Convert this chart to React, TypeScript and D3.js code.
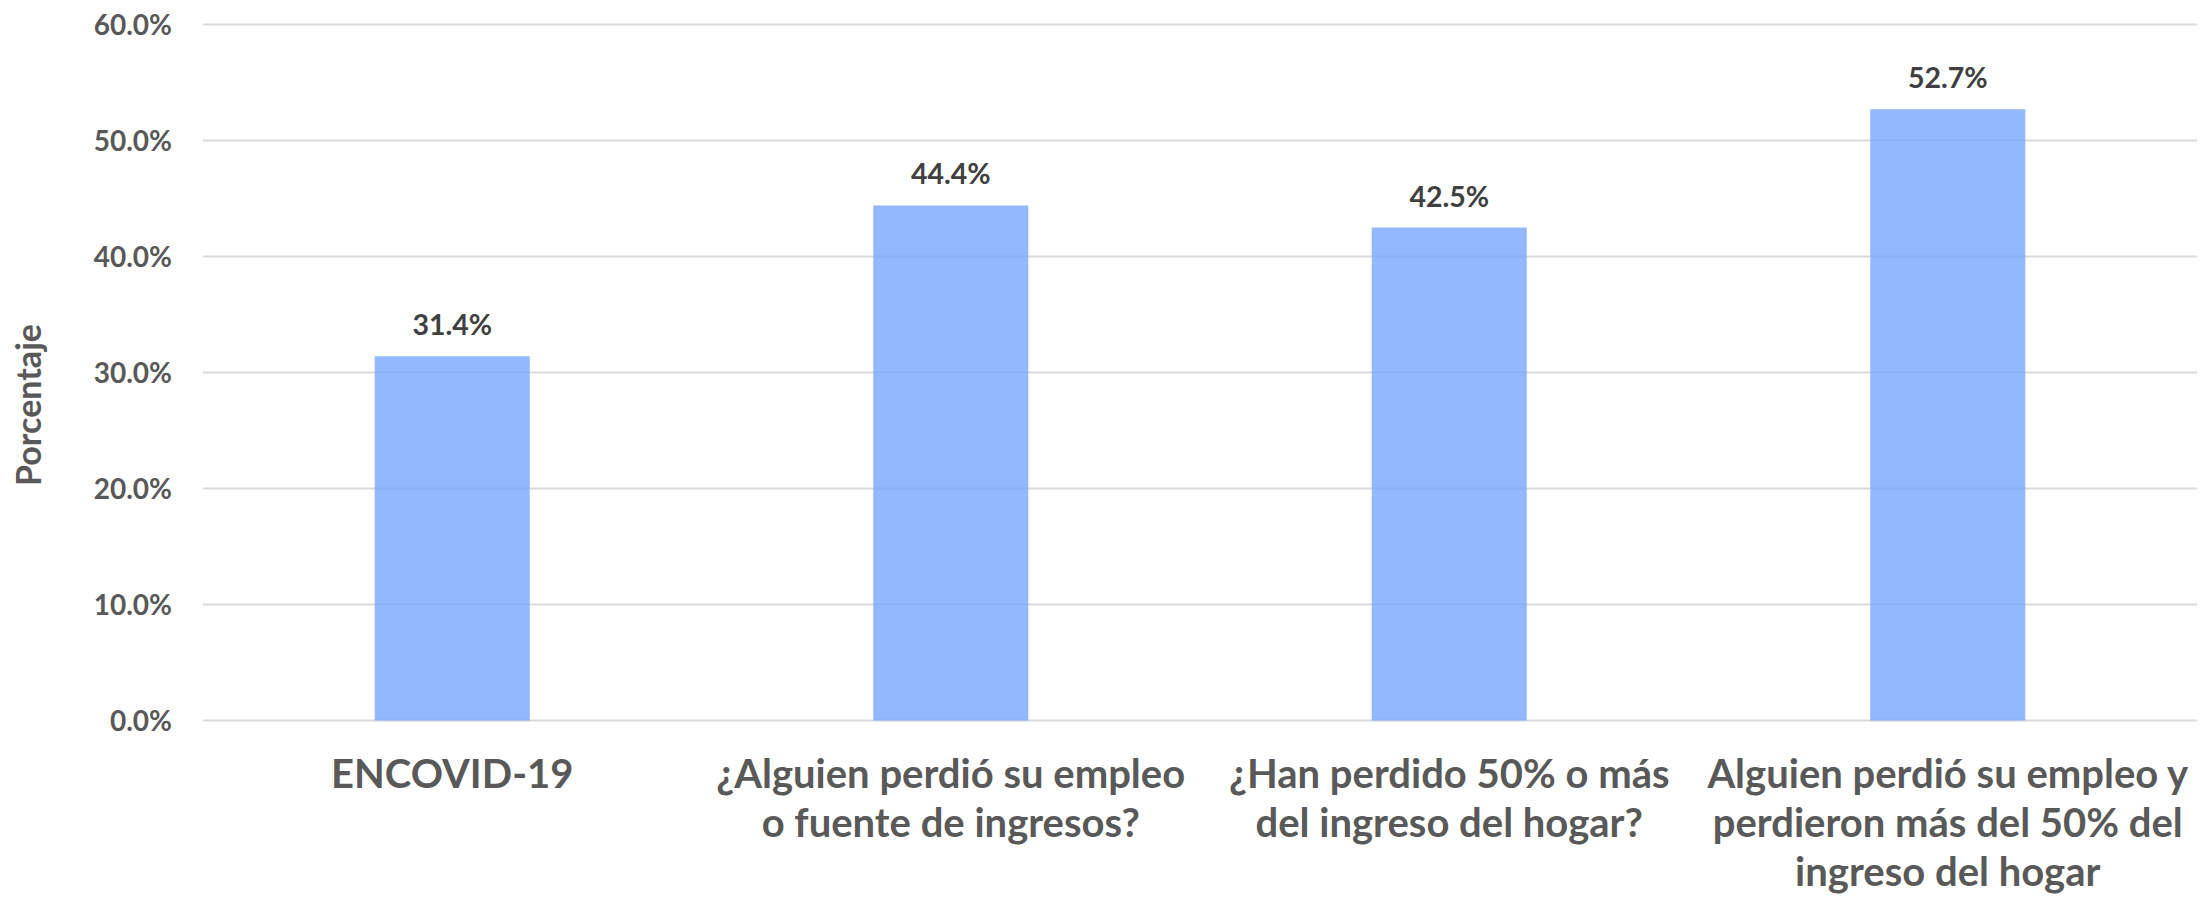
import React from "react";
import * as d3 from "d3";

const categories: string[] = [
  "ENCOVID-19",
  "¿Alguien perdió su empleo\no fuente de ingresos?",
  "¿Han perdido 50% o más\ndel ingreso del hogar?",
  "Alguien perdió su empleo y\nperdieron más del 50% del\ningreso del hogar",
];
const values: number[] = [31.4, 44.4, 42.5, 52.7];
const yTicks: number[] = [0, 10, 20, 30, 40, 50, 60];
const yTitle = "Porcentaje";

const W = 2205;
const H = 900;
const plotLeft = 203;
const plotRight = 2197;
const plotTop = 24.5;
const plotBottom = 720.5;
const FONT = "Lato, 'Open Sans', sans-serif";

export default function App() {
  const x = d3
    .scaleBand<string>()
    .domain(categories)
    .range([plotLeft, plotRight])
    .paddingInner(0.689)
    .paddingOuter(0.3445);
  const y = d3.scaleLinear().domain([0, 60]).range([plotBottom, plotTop]);
  const fmt = (v: number) => d3.format(".1f")(v) + "%";

  return (
    <svg
      width={W}
      height={H}
      style={{ position: "fixed", left: 0, top: 0, background: "#fff" }}
      fontFamily={FONT}
    >
      <rect x={0} y={0} width={W} height={H} fill="#fff" />
      {yTicks.map((t) => (
        <g key={t}>
          <line
            x1={plotLeft}
            x2={plotRight}
            y1={y(t)}
            y2={y(t)}
            stroke="#d9d9d9"
            strokeWidth={2}
          />
          <text
            x={172}
            y={y(t)}
            dy="0.36em"
            textAnchor="end"
            fontSize={28}
            fontWeight={700}
            fill="#595959"
          >
            {fmt(t)}
          </text>
        </g>
      ))}
      {categories.map((c, i) => (
        <g key={c}>
          <rect
            x={x(c)!}
            y={y(values[i])}
            width={x.bandwidth()}
            height={y(0) - y(values[i])}
            fill="rgb(121,166,254)"
            fillOpacity={0.8}
          />
          <text
            x={x(c)! + x.bandwidth() / 2}
            y={y(values[i]) - 21}
            textAnchor="middle"
            fontSize={28.5}
            fontWeight={700}
            fill="#404040"
          >
            {fmt(values[i])}
          </text>
          <text
            x={x(c)! + x.bandwidth() / 2}
            textAnchor="middle"
            fontSize={40}
            fontWeight={700}
            fill="#595959"
          >
            {c.split("\n").map((line, j) => (
              <tspan key={j} x={x(c)! + x.bandwidth() / 2} y={788 + j * 49}>
                {line}
              </tspan>
            ))}
          </text>
        </g>
      ))}
      <text
        transform={`translate(41,405) rotate(-90)`}
        textAnchor="middle"
        fontSize={34}
        fontWeight={700}
        fill="#595959"
      >
        {yTitle}
      </text>
    </svg>
  );
}
